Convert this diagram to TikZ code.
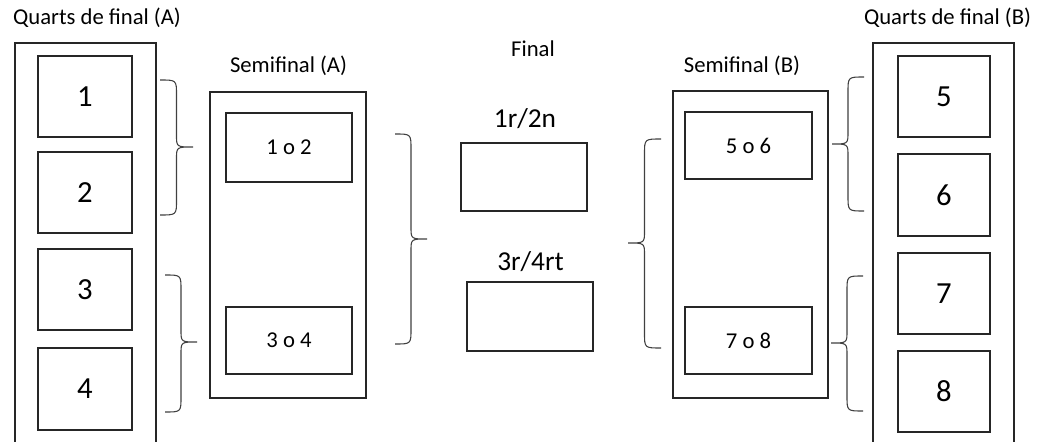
\documentclass[tikz,border=0pt]{standalone}
\usepackage{fontspec}
\setmainfont{Carlito}
\usetikzlibrary{fit}
\tikzset{
  box/.style={draw=black!85, line width=1.05pt, inner sep=0pt, rectangle},
  brc/.style={draw=black!75, line width=0.8pt},
  title/.style={anchor=base, inner sep=0pt, font=\fontsize{17}{20}\selectfont, text=black},
  big/.style={font=\fontsize{23}{26}\selectfont, text=black},
  mid/.style={font=\fontsize{17}{20}\selectfont, text=black},
  fin/.style={anchor=base, inner sep=0pt, font=\fontsize{20.5}{24}\selectfont, text=black}
}
\newcommand{\mybrace}[5]{% xe, xt, ytop, ybot, ymid
  \pgfmathsetmacro{\xv}{(#1+#2)/2}
  \draw[brc] (#1,#3) .. controls (\xv,#3) .. (\xv,#3+15) -- (\xv,#5-12)
    .. controls (\xv,#5) .. (#2,#5) .. controls (\xv,#5) .. (\xv,#5+12)
    -- (\xv,#4-15) .. controls (\xv,#4) .. (#1,#4);
}
\begin{document}
\begin{tikzpicture}[x=0.75pt,y=-0.75pt]
\useasboundingbox (0,0) rectangle (1039,442);
\clip (0,0) rectangle (1039,442);
\fill[white] (0,0) rectangle (1039,442);
% titles
\node[title] (tqa) at (97,25) {Quarts de final (A)};
\node[title] (tsa) at (288.5,73) {Semifinal (A)};
\node[title] (tf) at (533,57) {Final};
\node[title] (tsb) at (742,73) {Semifinal (B)};
\node[title] (tqb) at (947.5,25) {Quarts de final (B)};
% quarter A
\node[box, fit={(15,43) (156,450)}] (QA) {};
\node[box, fit={(38,56) (132,137)}] (q1) {};
\node[box, fit={(38,152) (132,233)}] (q2) {};
\node[box, fit={(38,249) (132,330)}] (q3) {};
\node[box, fit={(38,348) (132,430)}] (q4) {};
\node[big] (l1) at (q1.center) {1};
\node[big] (l2) at (q2.center) {2};
\node[big] (l3) at (q3.center) {3};
\node[big] (l4) at (q4.center) {4};
% semifinal A
\node[box, fit={(210,92) (366,398)}] (SA) {};
\node[box, fit={(226,113) (352,182)}] (s12) {};
\node[box, fit={(226,307) (352,374)}] (s34) {};
\node[mid] (l12) at (s12.center) {1 o 2};
\node[mid] (l34) at (s34.center) {3 o 4};
% final
\node[box, fit={(461,143) (587,211)}] (F1) {};
\node[box, fit={(467,282) (593,351)}] (F2) {};
\node[fin] (lf1) at (525,128) {1r/2n};
\node[fin] (lf2) at (530.5,270) {3r/4rt};
% semifinal B
\node[box, fit={(673,91) (828,398)}] (SB) {};
\node[box, fit={(685,112) (812,179)}] (s56) {};
\node[box, fit={(685,307) (812,374)}] (s78) {};
\node[mid] (l56) at (s56.center) {5 o 6};
\node[mid] (l78) at (s78.center) {7 o 8};
% quarter B
\node[box, fit={(873,43) (1014,450)}] (QB) {};
\node[box, fit={(898,56) (990,137)}] (q5) {};
\node[box, fit={(898,154) (990,236)}] (q6) {};
\node[box, fit={(898,253) (990,334)}] (q7) {};
\node[box, fit={(898,351) (990,432)}] (q8) {};
\node[big] (l5) at (q5.center) {5};
\node[big] (l6) at (q6.center) {6};
\node[big] (l7) at (q7.center) {7};
\node[big] (l8) at (q8.center) {8};
% braces
\mybrace{160}{193}{80}{215}{147}
\mybrace{165}{197}{275}{412}{342}
\mybrace{395}{427}{134}{344}{239}
\mybrace{661}{628}{139}{348}{243}
\mybrace{864}{832}{77}{211}{144}
\mybrace{863}{831}{276}{411}{343}
\end{tikzpicture}
\end{document}
